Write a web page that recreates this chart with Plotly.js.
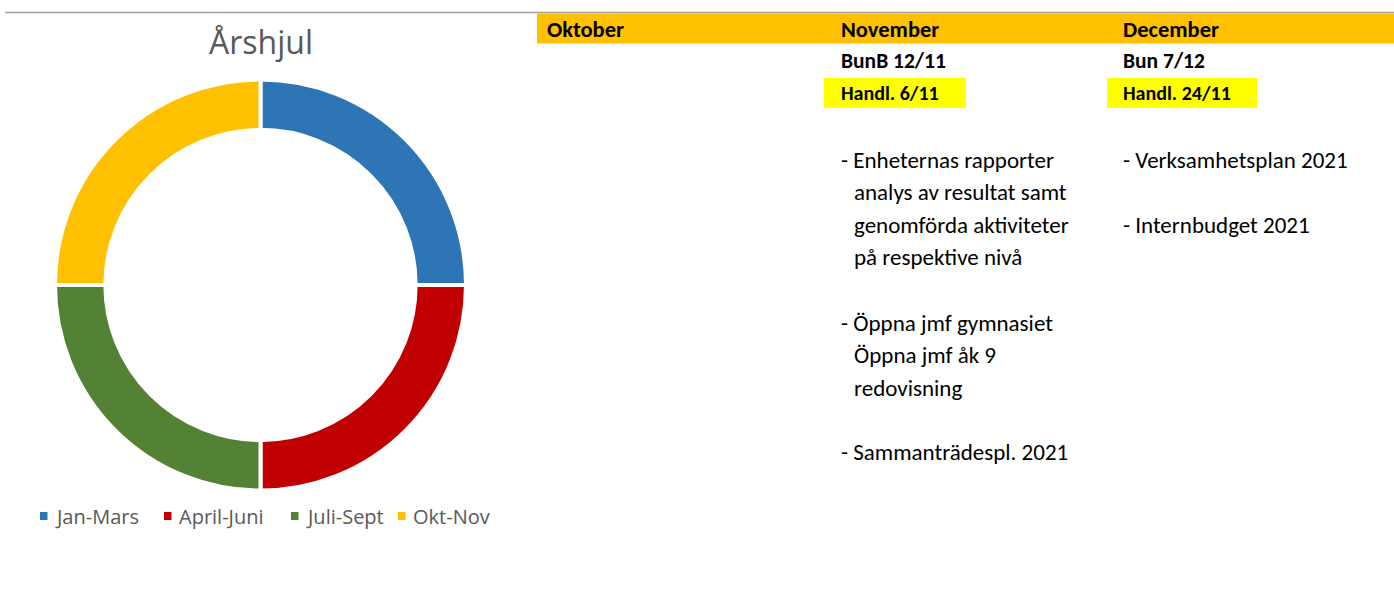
<!DOCTYPE html>
<html>
<head>
<meta charset="utf-8">
<script src="https://cdn.plot.ly/plotly-3.0.1.min.js"></script>
<style>
  html, body { margin: 0; padding: 0; background: #ffffff; }
  #chart { width: 1394px; height: 590px; }
</style>
</head>
<body>
<div id="chart"></div>
<script>
// ---- data ----
const chartTitle = "Årshjul";
const periods = ["Jan-Mars", "April-Juni", "Juli-Sept", "Okt-Nov"];
const periodValues = [1, 1, 1, 1];
const periodColors = ["#2E75B6", "#C00000", "#548235", "#FFC000"];

const monthHeaders = ["Oktober", "November", "December"];
const meetingLines = ["", "BunB 12/11", "Bun 7/12"];
const handlLines = ["", "Handl. 6/11", "Handl. 24/11"];
const novemberNotes = [
  "- Enheternas rapporter",
  "  analys av resultat samt",
  "  genomförda aktiviteter",
  "  på respektive nivå",
  "",
  "- Öppna jmf gymnasiet",
  "  Öppna jmf åk 9",
  "  redovisning",
  "",
  "- Sammanträdespl. 2021"
];
const decemberNotes = [
  "- Verksamhetsplan 2021",
  "",
  "- Internbudget 2021"
];

// ---- layout helpers ----
const W = 1394, H = 590;
const px = x => x / W;
const py = y => 1 - y / H;

const BODY_FONT = "Carlito, Calibri, Lato, 'Liberation Sans', sans-serif";
const CHART_FONT = "'Open Sans', 'Segoe UI', sans-serif";

const colX = [545, 839, 1121];
const noteLineY = [160, 192, 225, 257, 290, 323, 355, 388, 420, 452];

const shapes = [];
const annotations = [];

// top gray rule
shapes.push({type: "line", xref: "paper", yref: "paper", x0: px(5), x1: 1, y0: py(12.5), y1: py(12.5),
  line: {color: "#A0A0A0", width: 1.5}});
// header band
shapes.push({type: "rect", xref: "paper", yref: "paper", x0: px(537), x1: 1, y0: py(13.5), y1: py(43.5),
  fillcolor: "#FFC000", line: {width: 0}, layer: "below"});
// yellow highlight boxes
shapes.push({type: "rect", xref: "paper", yref: "paper", x0: px(824), x1: px(966), y0: py(78), y1: py(108),
  fillcolor: "#FFFF00", line: {width: 0}, layer: "below"});
shapes.push({type: "rect", xref: "paper", yref: "paper", x0: px(1107), x1: px(1257), y0: py(78), y1: py(108),
  fillcolor: "#FFFF00", line: {width: 0}, layer: "below"});

function addText(text, x, y, size, bold, color, family) {
  if (!text) return;
  annotations.push({
    text: bold ? "<b>" + text + "</b>" : text,
    xref: "paper", yref: "paper", x: px(x), y: py(y),
    xanchor: "left", yanchor: "middle", showarrow: false,
    font: {family: family || BODY_FONT, size: size, color: color || "#000000"}
  });
}

monthHeaders.forEach((m, i) => addText(m, colX[i], 29, 22.5, true));
meetingLines.forEach((m, i) => addText(m, colX[i], 61, 21.5, true));
handlLines.forEach((m, i) => addText(m, colX[i], 93, 20, true));

novemberNotes.forEach((t, i) => {
  const indent = t.startsWith("  ");
  addText(t.trim(), indent ? colX[1] + 13 : colX[1], noteLineY[i], 23, false);
});
decemberNotes.forEach((t, i) => {
  addText(t.trim(), colX[2], noteLineY[i], 23, false);
});

// custom legend built from the series arrays
const legendX = [40, 164, 291, 398];
periods.forEach((p, i) => {
  shapes.push({type: "rect", xref: "paper", yref: "paper",
    x0: px(legendX[i]), x1: px(legendX[i] + 7.5), y0: py(512), y1: py(520),
    fillcolor: periodColors[i], line: {width: 0}});
  addText(p, legendX[i] + 13, 516, 20, false, "#595959", CHART_FONT);
});

// title
annotations.push({
  text: chartTitle, xref: "paper", yref: "paper", x: px(261), y: py(41),
  xanchor: "center", yanchor: "middle", showarrow: false,
  font: {family: CHART_FONT, size: 32, color: "#595959"}
});

const trace = {
  type: "pie",
  labels: periods,
  values: periodValues,
  hole: 0.755,
  sort: false,
  direction: "clockwise",
  rotation: 0,
  textinfo: "none",
  hoverinfo: "label+percent",
  marker: {colors: periodColors, line: {color: "#ffffff", width: 4}},
  domain: {x: [px(55), px(466)], y: [py(490.5), py(79.5)]},
  showlegend: false
};

const layout = {
  width: W, height: H,
  margin: {l: 0, r: 0, t: 0, b: 0},
  paper_bgcolor: "#ffffff",
  plot_bgcolor: "#ffffff",
  showlegend: false,
  shapes: shapes,
  annotations: annotations
};

Plotly.newPlot("chart", [trace], layout, {displayModeBar: false, staticPlot: true});
</script>
</body>
</html>
